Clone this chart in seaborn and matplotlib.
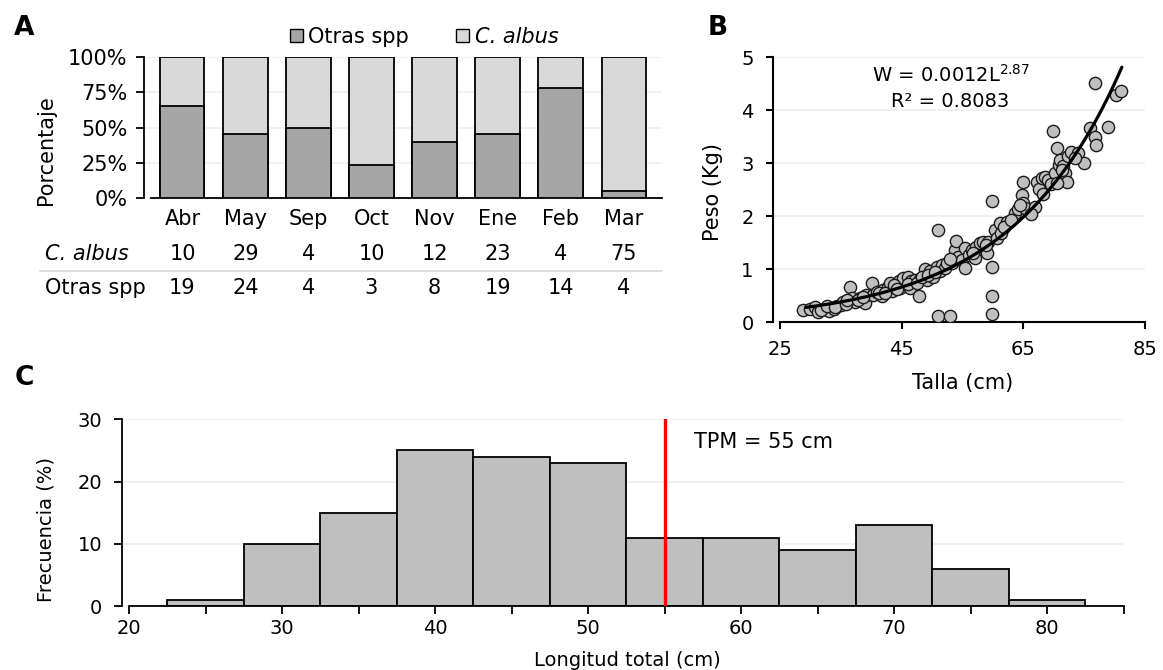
import numpy as np
import pandas as pd
import matplotlib
matplotlib.use("Agg")
import matplotlib.pyplot as plt
import seaborn as sns
from matplotlib.patches import Patch
from matplotlib.lines import Line2D
from matplotlib.ticker import PercentFormatter, FixedLocator

# ---------------- data ----------------
months = ["Abr", "May", "Sep", "Oct", "Nov", "Ene", "Feb", "Mar"]
n_albus = [10, 29, 4, 10, 12, 23, 4, 75]
n_otras = [19, 24, 4, 3, 8, 19, 14, 4]

talla = [28.8, 29.9, 30.8, 31.3, 32.4, 33.0, 33.8, 34.3, 35.1, 35.4, 36.5, 36.8, 37.3,
         38.2, 39.0, 39.2, 40.1, 40.3, 40.9, 41.7, 42.0, 42.8, 43.1, 43.4, 43.9, 44.5,
         44.8, 45.3, 45.3, 46.1, 46.4, 46.6, 47.2, 47.9, 48.0, 48.8, 49.1, 49.7, 50.2,
         50.8, 50.9, 51.0, 51.3, 51.6, 52.1, 52.9, 53.2, 53.8, 54.0, 54.3, 54.9, 55.4,
         55.4, 56.0, 56.5, 57.1, 57.3, 57.9, 58.4, 59.0, 59.2, 59.8, 59.8, 59.8, 59.8,
         60.3, 60.6, 61.2, 61.4, 62.3, 63.6, 64.2, 64.7, 64.9, 65.0, 65.3, 66.9, 67.2,
         67.5, 68.0, 68.3, 68.6, 69.1, 69.9, 70.2, 70.5, 70.8, 71.0, 71.6, 71.8, 72.1,
         72.4, 72.9, 74.0, 74.9, 76.0, 76.8, 76.9, 76.8, 79.0, 80.3, 81.0,
         31.8, 32.8, 34.0, 35.8, 36.0, 37.8, 38.6, 41.2, 42.3, 43.7, 44.2, 46.0, 47.5,
         48.4, 49.4, 50.5, 52.5, 53.0, 56.8, 58.8, 61.8, 63.0, 64.5, 66.2, 69.5, 70.5,
         71.3, 73.5]
peso = [0.23, 0.26, 0.28, 0.20, 0.26, 0.22, 0.25, 0.30, 0.33, 0.39, 0.67, 0.45, 0.39,
        0.45, 0.37, 0.52, 0.75, 0.52, 0.58, 0.50, 0.61, 0.67, 0.74, 0.60, 0.67, 0.77,
        0.64, 0.75, 0.83, 0.85, 0.64, 0.77, 0.80, 0.50, 0.81, 1.00, 0.80, 0.96, 0.86,
        1.05, 1.74, 0.11, 0.96, 1.08, 1.02, 0.11, 1.11, 1.36, 1.54, 1.24, 1.18, 1.02,
        1.40, 1.27, 1.36, 1.21, 1.43, 1.49, 1.52, 1.30, 1.52, 1.05, 0.50, 0.16, 2.29,
        1.74, 1.60, 1.87, 1.68, 1.90, 2.06, 2.13, 2.40, 2.64, 2.25, 2.15, 2.18, 2.65,
        2.51, 2.72, 2.43, 2.75, 2.69, 3.60, 2.81, 3.28, 2.97, 3.06, 2.94, 2.81, 2.65,
        3.13, 3.22, 3.19, 3.01, 3.66, 3.49, 3.35, 4.51, 3.69, 4.29, 4.37,
        0.24, 0.30, 0.28, 0.35, 0.42, 0.42, 0.48, 0.55, 0.56, 0.70, 0.62, 0.72, 0.74,
        0.86, 0.90, 0.95, 1.12, 1.20, 1.30, 1.46, 1.80, 1.93, 2.22, 2.05, 2.60, 2.62,
        2.88, 3.10]

# fitted curve parameters (as drawn in the reference)
curve_w0 = 0.28
curve_l0 = 29.2
curve_l1 = 81.2
curve_k = 0.0547

hist_centers = [25, 30, 35, 40, 45, 50, 55, 60, 65, 70, 75, 80]
hist_freq = [1, 10, 15, 25, 24, 23, 11, 11, 9, 13, 6, 1]
tpm = 55

# ---------------- style ----------------
sns.set_theme(style="white")
plt.rcParams["font.family"] = ["DejaVu Sans"]
plt.rcParams["axes.edgecolor"] = "black"
plt.rcParams["xtick.color"] = "black"
plt.rcParams["ytick.color"] = "black"
plt.rcParams["text.color"] = "black"

FSA = 15
FSB = 14
FSL = 15
FSC = 14
DARK = "#a6a6a6"
LIGHT = "#d9d9d9"
GRID = "#efefef"
W, H = 1163, 670

fig = plt.figure(figsize=(11.63, 6.70), dpi=100)


def fx(px):
    return px / W


def fy(py):
    return 1 - py / H


# ---------------- panel A ----------------
axA = fig.add_axes([fx(144), fy(198), fx(662) - fx(144), fy(57) - fy(198)])
tot = np.array(n_albus) + np.array(n_otras)
dfA = pd.DataFrame({"mes": months,
                    "total": 100.0 * tot / tot,
                    "otras": 100.0 * np.array(n_otras) / tot})
sns.barplot(data=dfA, x="mes", y="total", color=LIGHT, saturation=1, edgecolor="black",
            linewidth=1.3, width=0.7, errorbar=None, ax=axA, zorder=2)
sns.barplot(data=dfA, x="mes", y="otras", color=DARK, saturation=1, edgecolor="black",
            linewidth=1.3, width=0.7, errorbar=None, ax=axA, zorder=3)
axA.set_xlim(-0.61, 7.61)
axA.set_ylim(0, 100)
axA.yaxis.set_major_locator(FixedLocator([0, 25, 50, 75, 100]))
axA.yaxis.set_major_formatter(PercentFormatter(100, decimals=0))
axA.grid(axis="y", color=GRID, lw=1.2, zorder=0)
axA.set_axisbelow(True)
for s in ["top", "right"]:
    axA.spines[s].set_visible(False)
axA.spines["left"].set_linewidth(1.3)
axA.spines["bottom"].set_linewidth(1.3)
axA.spines["bottom"].set_bounds(-0.5, 7.61)
axA.tick_params(axis="x", length=0, pad=8, labelsize=FSA)
axA.tick_params(axis="y", left=True, length=6, width=1.3, direction="out", pad=6, labelsize=FSA)
axA.set_xlabel("")
axA.set_ylabel("")
fig.text(fx(46), fy(150), "Porcentaje", rotation=90, ha="center", va="center", fontsize=FSA)

tr = axA.get_xaxis_transform()
for i in range(len(months)):
    axA.text(i, (198 - 254) / 141, str(n_albus[i]), transform=tr, ha="center", va="center",
             fontsize=FSA, clip_on=False)
    axA.text(i, (198 - 288) / 141, str(n_otras[i]), transform=tr, ha="center", va="center",
             fontsize=FSA, clip_on=False)
fig.text(fx(45), fy(254), "C. albus", style="italic", ha="left", va="center", fontsize=FSA)
fig.text(fx(45), fy(288), "Otras spp", ha="left", va="center", fontsize=FSA)
fig.add_artist(Line2D([fx(40), fx(662)], [fy(271), fy(271)], transform=fig.transFigure,
                      color="#d9d9d9", lw=1.3))

handles = [Patch(facecolor=DARK, edgecolor="black", lw=1.0),
           Patch(facecolor=LIGHT, edgecolor="black", lw=1.0)]
leg = fig.legend(handles, ["Otras spp", "C. albus"], loc="center",
                 bbox_to_anchor=(fx(424), fy(37)), ncol=2, frameon=False, fontsize=FSA,
                 handlelength=0.62, handleheight=0.62, handletextpad=0.25, columnspacing=2.3)
leg.get_texts()[1].set_style("italic")

fig.text(fx(24), fy(28), "A", fontsize=19, weight="bold", ha="center", va="center")

# ---------------- panel B ----------------
axB = fig.add_axes([fx(773), fy(322.3), fx(1145) - fx(773), fy(57.3) - fy(322.3)])
sns.scatterplot(x=talla, y=peso, s=78, color="#bfbfbf", edgecolor="#1a1a1a", linewidth=1.0,
                ax=axB, zorder=3, legend=False)
lgrid = np.linspace(curve_l0, curve_l1, 200)
wgrid = curve_w0 * np.exp(curve_k * (lgrid - curve_l0))
sns.lineplot(x=lgrid, y=wgrid, color="black", lw=2.3, ax=axB, zorder=4)
axB.set_xlim(23.85, 85)
axB.set_ylim(0, 5)
axB.set_xticks([25, 45, 65, 85])
axB.set_yticks([0, 1, 2, 3, 4, 5])
axB.grid(axis="y", color=GRID, lw=1.2, zorder=0)
axB.set_axisbelow(True)
for s in ["top", "right"]:
    axB.spines[s].set_visible(False)
axB.spines["left"].set_linewidth(1.5)
axB.spines["bottom"].set_linewidth(1.5)
axB.spines["bottom"].set_bounds(25, 85)
axB.tick_params(axis="both", bottom=True, left=True, length=5, width=1.5, direction="out",
                labelsize=FSB)
axB.tick_params(axis="x", pad=8)
axB.tick_params(axis="y", pad=9)
axB.set_xlabel("")
axB.set_ylabel("")
fig.text(fx(963), fy(383), "Talla (cm)", ha="center", va="center", fontsize=FSL)
fig.text(fx(713), fy(192), "Peso (Kg)", rotation=90, ha="center", va="center", fontsize=FSL)
axB.text(53.1, 4.67, r"W = 0.0012L$^{2.87}$", ha="center", va="center", fontsize=FSB)
axB.text(53.0, 4.16, "R² = 0.8083", ha="center", va="center", fontsize=FSB)
fig.text(fx(718), fy(28), "B", fontsize=19, weight="bold", ha="center", va="center")

# ---------------- panel C ----------------
axC = fig.add_axes([fx(121.7), fy(606), fx(1123.5) - fx(121.7), fy(419.3) - fy(606)])
dfC = pd.DataFrame({"talla": hist_centers, "freq": hist_freq})
sns.histplot(data=dfC, x="talla", weights="freq", binwidth=5, binrange=(22.5, 82.5),
             color="#bfbfbf", edgecolor="black", linewidth=1.3, alpha=1, ax=axC)
axC.axvline(tpm, color="#ff0000", lw=2.4, zorder=4)
axC.set_xlim(19.52, 85)
axC.set_ylim(0, 30)
axC.set_xticks([20, 30, 40, 50, 60, 70, 80])
axC.set_xticks([25, 35, 45, 55, 65, 75, 85], minor=True)
axC.set_yticks([0, 10, 20, 30])
axC.spines["bottom"].set_bounds(20, 85)
axC.grid(axis="y", color=GRID, lw=1.2, zorder=0)
axC.set_axisbelow(True)
for s in ["top", "right"]:
    axC.spines[s].set_visible(False)
axC.spines["left"].set_linewidth(1.3)
axC.spines["bottom"].set_linewidth(1.3)
axC.tick_params(axis="both", which="both", bottom=True, left=True, length=6, width=1.3,
                direction="out", labelsize=FSC)
axC.tick_params(axis="y", pad=8)
axC.set_xlabel("")
axC.set_ylabel("")
axC.text(56.9, 26.4, "TPM = 55 cm", ha="left", va="center", fontsize=15)
fig.text(fx(627), fy(660), "Longitud total (cm)", ha="center", va="center", fontsize=FSC)
fig.text(fx(46), fy(530), "Frecuencia (%)", rotation=90, ha="center", va="center", fontsize=FSC)
fig.text(fx(24), fy(378), "C", fontsize=19, weight="bold", ha="center", va="center")

fig.savefig("out.png", dpi=100)
